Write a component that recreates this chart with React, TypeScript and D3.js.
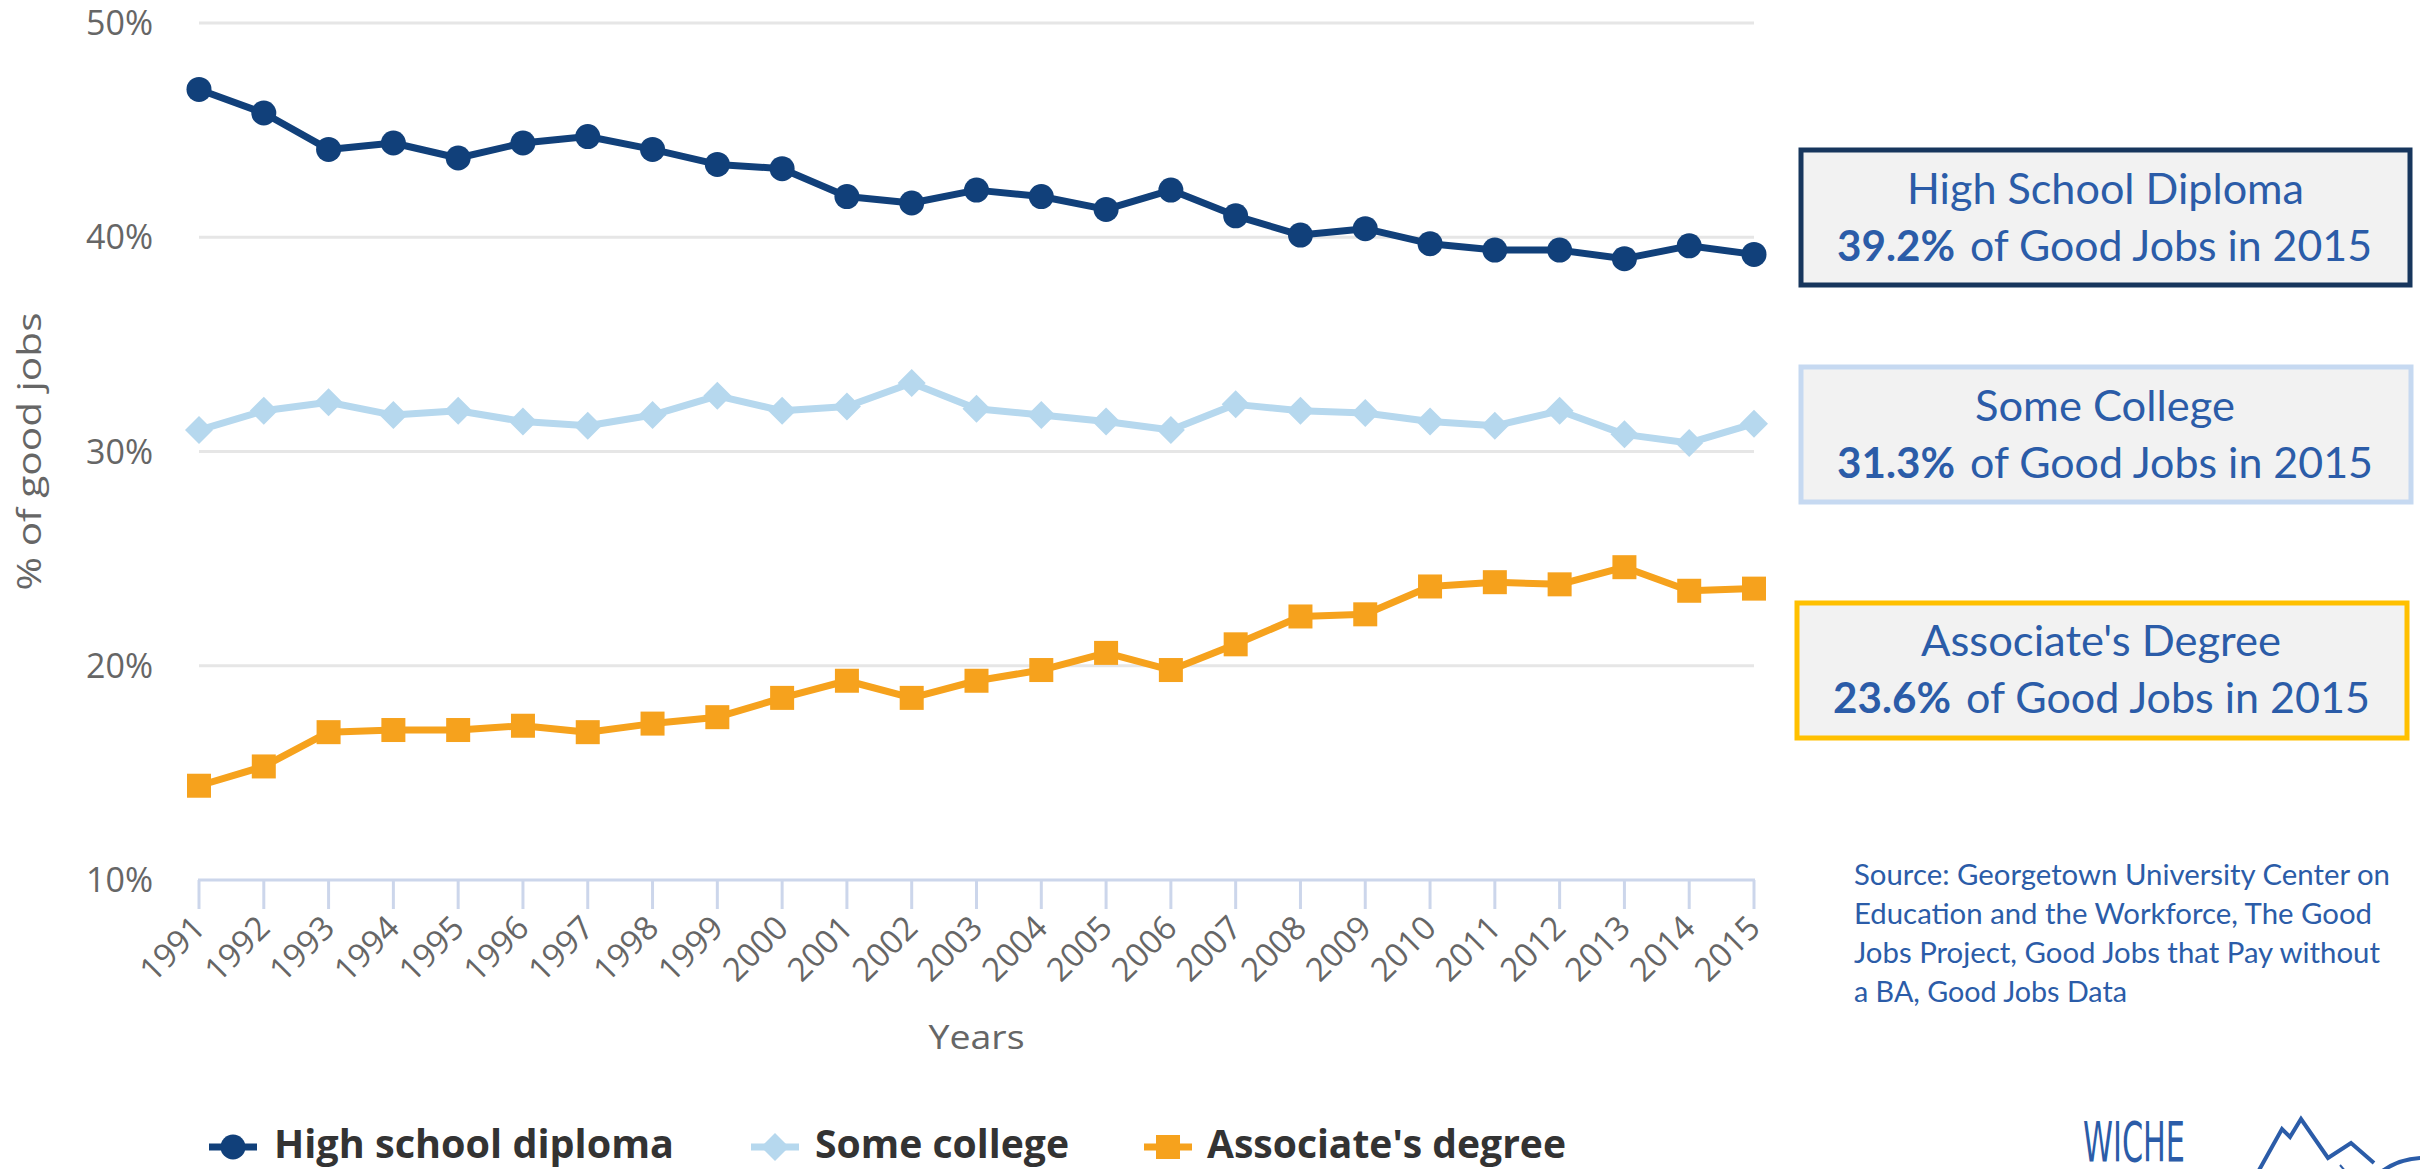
import React from "react";
import * as d3 from "d3";

const years = ["1991","1992","1993","1994","1995","1996","1997","1998","1999","2000","2001","2002","2003","2004","2005","2006","2007","2008","2009","2010","2011","2012","2013","2014","2015"];
const highSchool = [46.9,45.8,44.1,44.4,43.7,44.4,44.7,44.1,43.4,43.2,41.9,41.6,42.2,41.9,41.3,42.2,41.0,40.1,40.4,39.7,39.4,39.4,39.0,39.6,39.2];
const someCollege = [31.0,31.9,32.3,31.7,31.9,31.4,31.2,31.7,32.6,31.9,32.1,33.2,32.0,31.7,31.4,31.0,32.2,31.9,31.8,31.4,31.2,31.9,30.8,30.4,31.3];
const associate = [14.4,15.3,16.9,17.0,17.0,17.2,16.9,17.3,17.6,18.5,19.3,18.5,19.3,19.8,20.6,19.8,21.0,22.3,22.4,23.7,23.9,23.8,24.6,23.5,23.6];
const yTicks = [10, 20, 30, 40, 50];
const seriesNames = ["High school diploma", "Some college", "Associate's degree"];
const boxTitles = ["High School Diploma", "Some College", "Associate's Degree"];
const boxValues = ["39.2%", "31.3%", "23.6%"];
const sourceLines = [
  "Source: Georgetown University Center on",
  "Education and the Workforce, The Good",
  "Jobs Project, Good Jobs that Pay without",
  "a BA, Good Jobs Data",
];

const NAVY = "#11407a";
const LIGHT = "#b6d8ee";
const ORANGE = "#f6a21d";
const BLUE_TXT = "#2b5ca8";
const AXIS_FONT = "'Open Sans', 'DejaVu Sans', sans-serif";
const BOX_FONT = "Lato, 'Open Sans', sans-serif";

const W = 2420, H = 1169;
const PL = 199, PR = 1754, PT = 23, PB = 880;

function Marker({ kind, x, y, color }: { kind: string; x: number; y: number; color: string }) {
  if (kind === "circle") return <circle cx={x} cy={y} r={12.5} fill={color} />;
  if (kind === "diamond") {
    const s = 14;
    return <path d={`M${x},${y - s}L${x + s},${y}L${x},${y + s}L${x - s},${y}Z`} fill={color} />;
  }
  const s = 12;
  return <rect x={x - s} y={y - s} width={2 * s} height={2 * s} fill={color} />;
}

export default function App() {
  const x = d3.scalePoint<string>().domain(years).range([PL, PR]);
  const y = d3.scaleLinear().domain([10, 50]).range([PB, PT]);
  const line = d3.line<number>().x((_, i) => x(years[i]) as number).y((v) => y(v));

  const series = [
    { name: seriesNames[0], data: highSchool, color: NAVY, kind: "circle" },
    { name: seriesNames[1], data: someCollege, color: LIGHT, kind: "diamond" },
    { name: seriesNames[2], data: associate, color: ORANGE, kind: "square" },
  ];

  const boxes = [
    { top: 150, bottom: 285, left: 1801, right: 2410, stroke: "#17365d", t1: [1907, 397], v: [1837, 118], r: [1970, 402], b1: 204, b2: 261 },
    { top: 367, bottom: 502, left: 1801, right: 2411, stroke: "#c6d9f1", t1: [1975, 260], v: [1837, 118], r: [1970, 403], b1: 421, b2: 478 },
    { top: 603, bottom: 738, left: 1797, right: 2407, stroke: "#ffc000", t1: [1921, 360], v: [1833, 118], r: [1966, 404], b1: 656, b2: 713 },
  ];

  const legend = [
    { sx: 233, tx: 274, tl: 400 },
    { sx: 775, tx: 815, tl: 254 },
    { sx: 1168, tx: 1207, tl: 359 },
  ];

  return (
    <svg width={W} height={H} style={{ position: "absolute", left: 0, top: 0, background: "#fff" }}>
      <rect x={0} y={0} width={W} height={H} fill="#fff" />
      {/* gridlines */}
      {yTicks.filter((t) => t > 10).map((t) => (
        <line key={t} x1={PL} x2={PR} y1={y(t)} y2={y(t)} stroke="#e6e6e6" strokeWidth={3} />
      ))}
      {/* y labels */}
      {yTicks.map((t) => (
        <text key={t} x={153} y={y(t) + 12} textAnchor="end" fontFamily={AXIS_FONT} fontSize={34} fill="#666">
          {`${t}%`}
        </text>
      ))}
      {/* y title */}
      <text
        transform={`translate(41,${(PT + PB) / 2}) rotate(-90)`}
        textAnchor="middle"
        fontFamily={AXIS_FONT}
        fontSize={33}
        fill="#666"
        textLength={278}
        lengthAdjust="spacingAndGlyphs"
      >
        % of good jobs
      </text>
      {/* x axis */}
      <line x1={PL - 1} x2={PR + 1} y1={PB} y2={PB} stroke="#ccd6eb" strokeWidth={3} />
      {years.map((yr) => (
        <g key={yr}>
          <line x1={x(yr)} x2={x(yr)} y1={PB} y2={PB + 29} stroke="#ccd6eb" strokeWidth={3} />
          <text
            transform={`translate(${(x(yr) as number) + 8},${PB + 50}) rotate(-45)`}
            textAnchor="end"
            fontFamily={AXIS_FONT}
            fontSize={33}
            fill="#666"
          >
            {yr}
          </text>
        </g>
      ))}
      <text x={(PL + PR) / 2} y={1049} textAnchor="middle" fontFamily={AXIS_FONT} fontSize={33} fill="#666" textLength={96} lengthAdjust="spacingAndGlyphs">
        Years
      </text>
      {/* series */}
      {series.map((s) => (
        <g key={s.name}>
          <path d={line(s.data) || ""} fill="none" stroke={s.color} strokeWidth={7} strokeLinejoin="round" strokeLinecap="round" />
          {s.data.map((v, i) => (
            <Marker key={i} kind={s.kind} x={x(years[i]) as number} y={y(v)} color={s.color} />
          ))}
        </g>
      ))}
      {/* legend */}
      {series.map((s, i) => (
        <g key={s.name}>
          <line x1={legend[i].sx - 24} x2={legend[i].sx + 24} y1={1147} y2={1147} stroke={s.color} strokeWidth={7} />
          <Marker kind={s.kind} x={legend[i].sx} y={1147} color={s.color} />
          <text x={legend[i].tx} y={1158} fontFamily={AXIS_FONT} fontWeight="bold" fontSize={39} fill="#333" textLength={legend[i].tl} lengthAdjust="spacingAndGlyphs">
            {s.name}
          </text>
        </g>
      ))}
      {/* annotation boxes */}
      {boxes.map((b, i) => (
        <g key={i}>
          <rect x={b.left} y={b.top} width={b.right - b.left} height={b.bottom - b.top} fill="#f2f2f2" stroke={b.stroke} strokeWidth={5} />
          <text x={b.t1[0]} y={b.b1} fontFamily={BOX_FONT} fontSize={42} fill={BLUE_TXT} textLength={b.t1[1]} lengthAdjust="spacingAndGlyphs">
            {boxTitles[i]}
          </text>
          <text x={b.v[0]} y={b.b2} fontFamily={BOX_FONT} fontWeight="bold" fontSize={42} fill={BLUE_TXT} textLength={b.v[1]} lengthAdjust="spacingAndGlyphs">
            {boxValues[i]}
          </text>
          <text x={b.r[0]} y={b.b2} fontFamily={BOX_FONT} fontSize={42} fill={BLUE_TXT} textLength={b.r[1]} lengthAdjust="spacingAndGlyphs">
            of Good Jobs in 2015
          </text>
        </g>
      ))}
      {/* source */}
      {sourceLines.map((l, i) => {
        const lens = [536, 518, 526, 273];
        return (
          <text key={i} x={1854} y={885 + i * 39} fontFamily={BOX_FONT} fontSize={28} fill={BLUE_TXT} textLength={lens[i]} lengthAdjust="spacingAndGlyphs">
            {l}
          </text>
        );
      })}
      {/* WICHE logo */}
      <text x={2083} y={1161} fontFamily="'DejaVu Sans Condensed', 'DejaVu Sans', sans-serif" fontWeight="300" fontSize={56} fill={BLUE_TXT} textLength={102} lengthAdjust="spacingAndGlyphs">
        WICHE
      </text>
      <polyline
        points="2258,1172 2282,1129 2290,1137 2301,1119 2328,1158 2351,1143 2374,1163"
        fill="none"
        stroke={BLUE_TXT}
        strokeWidth={4}
        strokeLinejoin="miter"
      />
      <line x1={2340} y1={1165} x2={2346} y2={1172} stroke={BLUE_TXT} strokeWidth={2} />
      <path d="M2381,1172 Q2400,1158 2424,1158" fill="none" stroke={BLUE_TXT} strokeWidth={4} />
    </svg>
  );
}
